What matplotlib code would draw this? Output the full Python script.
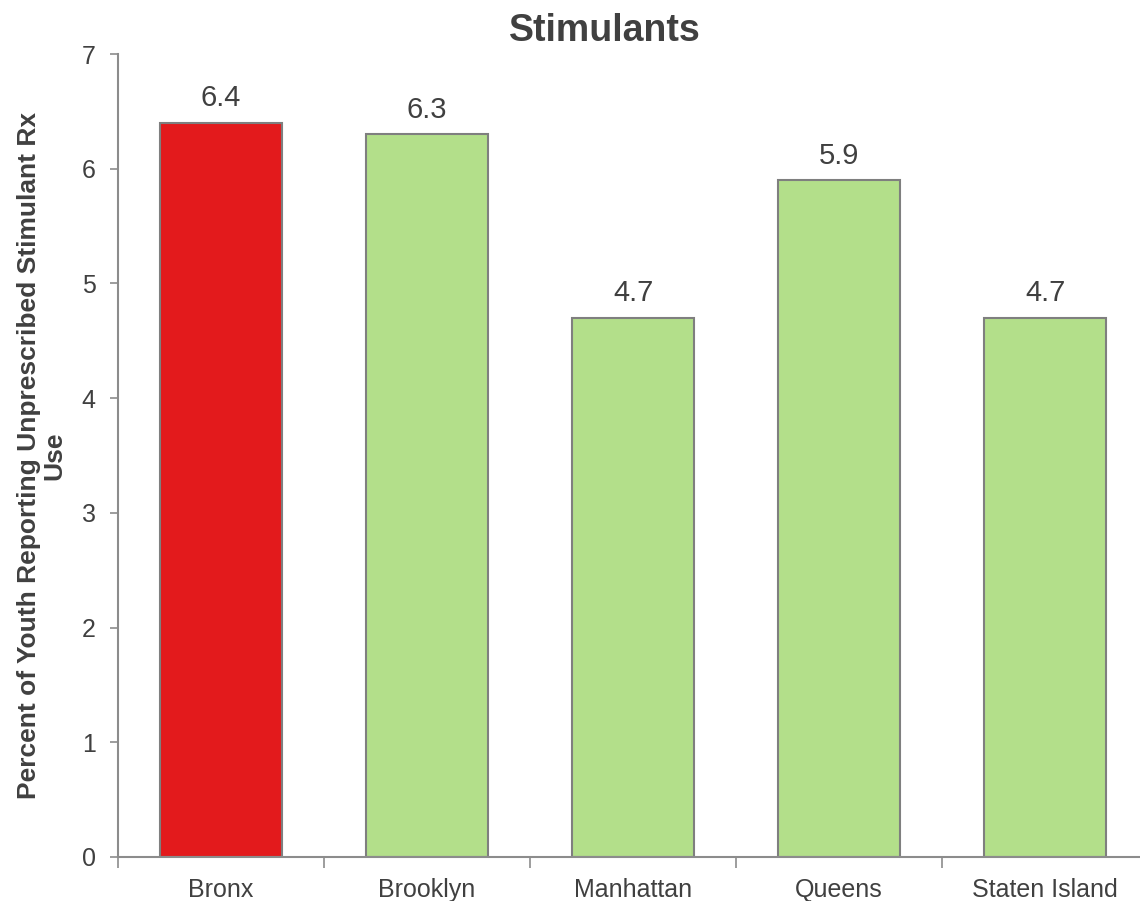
import matplotlib
matplotlib.use("Agg")
import matplotlib.pyplot as plt

# borough values
boroughs = ["Bronx", "Brooklyn", "Manhattan", "Queens", "Staten Island"]
values = [6.4, 6.3, 4.7, 5.9, 4.7]
bar_colors = ["#E31A1C", "#B3DF8A", "#B3DF8A", "#B3DF8A", "#B3DF8A"]
yticks = [0, 1, 2, 3, 4, 5, 6, 7]

TEXT = "#404040"
AXIS = "#8c8c8c"

plt.rcParams["font.family"] = ["Liberation Sans", "DejaVu Sans"]

fig = plt.figure(figsize=(11.4, 9.01), dpi=100)
ax = fig.add_axes([118 / 1140, 44 / 901, 1 - 118 / 1140, 803 / 901])

xs = list(range(len(boroughs)))
ax.bar(xs, values, width=0.59, color=bar_colors, edgecolor="#7f7f7f", linewidth=1.5, zorder=2)

for x, v in zip(xs, values):
    ax.annotate(f"{v:.1f}", (x, v), xytext=(0, 12), textcoords="offset points",
                ha="center", va="baseline", fontsize=21, color=TEXT)

ax.set_yticks(yticks)
ax.set_xticks(xs)
ax.set_xticklabels(boroughs)
# category boundary ticks
ax.set_xticks([x - 0.5 for x in xs], minor=True)
# limits after the ticks, so the ticks don't stretch the view
ax.set_xlim(-0.5, 4.46)
ax.set_ylim(0, 7)
ax.tick_params(axis="x", which="major", length=0, pad=15, labelsize=18, labelcolor=TEXT)
ax.tick_params(axis="x", which="minor", length=8, width=1.2, color=AXIS, direction="out")
ax.tick_params(axis="y", length=6, width=1.2, color=AXIS, pad=10, labelsize=18, labelcolor=TEXT)

for side in ("top", "right"):
    ax.spines[side].set_visible(False)
for side in ("left", "bottom"):
    ax.spines[side].set_color(AXIS)
    ax.spines[side].set_linewidth(1.5)

ax.set_ylabel("Percent of Youth Reporting Unprescribed Stimulant Rx\nUse",
              fontsize=19, fontweight="bold", color=TEXT, linespacing=1.05)
ax.yaxis.label.set_va("center")
ax.yaxis.set_label_coords(-0.0744, 0.5)
fig.text(605 / 1140, 1 - 41 / 901, "Stimulants", ha="center", va="baseline",
         fontsize=27, fontweight="bold", color=TEXT)

fig.savefig("out.png", dpi=100)
